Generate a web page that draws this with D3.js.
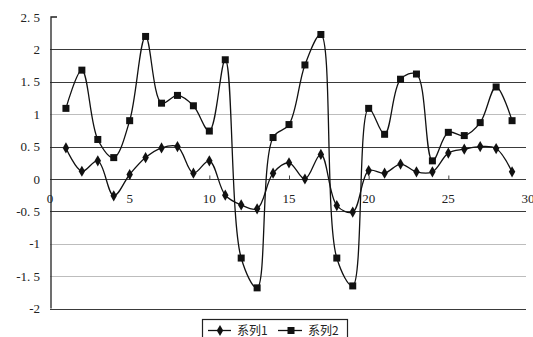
<!DOCTYPE html>
<html><head><meta charset="utf-8">
<script src="https://cdn.jsdelivr.net/npm/d3@7"></script>
<style>body{margin:0;background:#fff}svg{display:block}</style>
</head><body>
<script>
const xValues = [1,2,3,4,5,6,7,8,9,10,11,12,13,14,15,16,17,18,19,20,21,22,23,24,25,26,27,28,29];
const series1 = [0.48,0.12,0.28,-0.26,0.07,0.33,0.48,0.50,0.09,0.28,-0.25,-0.40,-0.46,0.09,0.25,0.00,0.38,-0.41,-0.51,0.13,0.09,0.23,0.11,0.11,0.40,0.46,0.50,0.47,0.11];
const series2 = [1.09,1.68,0.61,0.33,0.90,2.20,1.17,1.29,1.13,0.74,1.84,-1.22,-1.68,0.64,0.84,1.76,2.23,-1.22,-1.65,1.09,0.69,1.54,1.62,0.28,0.72,0.67,0.87,1.42,0.90];
const seriesNames = ["系列1","系列2"];
const yTicks = [2.5,2,1.5,1,0.5,0,-0.5,-1,-1.5,-2];
const yTickLabels = ["2. 5","2","1. 5","1","0. 5","0","-0. 5","-1","-1. 5","-2"];
const xTicks = [0,5,10,15,20,25,30];
const xTickLabels = ["0","5","10","15","20","25","30"];

const W = 533, H = 337;
const svg = d3.select("body").append("svg").attr("width", W).attr("height", H);
const x = d3.scaleLinear().domain([0,30]).range([50,528]);
const y = d3.scaleLinear().domain([-2,2.5]).range([308.6,17]);
const font = "'Liberation Serif', 'DejaVu Serif', serif";

// gridlines
const gridColor = v => ([1,-1,-1.5].includes(v) ? "#bdbdbd" : "#3a3a3a");
svg.append("g").selectAll("line").data(yTicks.filter(v => v !== 2.5)).join("line")
  .attr("x1", x(0)).attr("x2", 526)
  .attr("y1", d => Math.round(y(d)) + 0.5).attr("y2", d => Math.round(y(d)) + 0.5)
  .attr("stroke", d => gridColor(d)).attr("stroke-width", 1.2);

// y axis
const yAxis = svg.append("g").attr("transform", `translate(${x(0)+1},0)`)
  .call(d3.axisRight(y).tickValues([2.5]).tickSize(6).tickFormat(""));
yAxis.select(".domain").attr("stroke", "#222").attr("stroke-width", 1.3).attr("d", `M6,${y(2.5)}H0V${y(-2)}`);
yAxis.selectAll(".tick line").remove();
svg.append("g").selectAll("text").data(yTicks).join("text")
  .attr("x", 40).attr("y", d => y(d)).attr("dy", "0.35em")
  .attr("text-anchor", "end").attr("font-family", font).attr("font-size", 13)
  .attr("fill", "#222").text((d, i) => yTickLabels[i]);

// x axis at zero with upward ticks
const xAxis = svg.append("g").attr("transform", `translate(0,${Math.round(y(0))+0.5})`)
  .call(d3.axisTop(x).tickValues(xTicks.slice(1,6)).tickSize(4).tickFormat(""));
xAxis.select(".domain").remove();
xAxis.selectAll(".tick line").attr("stroke", "#444");
svg.append("g").selectAll("text").data(xTicks).join("text")
  .attr("x", d => x(d)).attr("y", 198).attr("dy", "0.35em")
  .attr("text-anchor", "middle").attr("font-family", font).attr("font-size", 13)
  .attr("fill", "#222").text((d, i) => xTickLabels[i]);

// lines
const line = d3.line().x(d => x(d[0])).y(d => y(d[1])).curve(d3.curveCatmullRom.alpha(0.5));
[series1, series2].forEach(s => {
  svg.append("path").datum(xValues.map((v, i) => [v, s[i]]))
    .attr("d", line).attr("fill", "none").attr("stroke", "#111").attr("stroke-width", 1.3);
});
// markers
const diamond = d3.symbol().type(d3.symbolDiamond).size(36);
svg.append("g").selectAll("path").data(series1).join("path")
  .attr("transform", (d, i) => `translate(${x(xValues[i])},${y(d)})`)
  .attr("d", diamond).attr("fill", "#111");
svg.append("g").selectAll("rect").data(series2).join("rect")
  .attr("x", (d, i) => x(xValues[i]) - 3.5).attr("y", d => y(d) - 3.5)
  .attr("width", 7).attr("height", 7).attr("fill", "#111");

// legend
const lg = svg.append("g");
lg.append("rect").attr("x", 202.5).attr("y", 319.5).attr("width", 145).attr("height", 30)
  .attr("fill", "none").attr("stroke", "#222").attr("stroke-width", 1.2);
const ly = 330.5;
lg.append("line").attr("x1", 208).attr("x2", 231).attr("y1", ly).attr("y2", ly).attr("stroke", "#111").attr("stroke-width", 1.3);
lg.append("path").attr("transform", `translate(220,${ly})`).attr("d", diamond).attr("fill", "#111");
lg.append("text").attr("x", 237).attr("y", ly).attr("dy", "0.36em").attr("font-family", "'Noto Sans CJK SC', sans-serif").attr("font-size", 12).attr("fill", "#222").text(seriesNames[0]);
lg.append("line").attr("x1", 278).attr("x2", 302).attr("y1", ly).attr("y2", ly).attr("stroke", "#111").attr("stroke-width", 1.3);
lg.append("rect").attr("x", 287.5).attr("y", ly - 3.5).attr("width", 7).attr("height", 7).attr("fill", "#111");
lg.append("text").attr("x", 308).attr("y", ly).attr("dy", "0.36em").attr("font-family", "'Noto Sans CJK SC', sans-serif").attr("font-size", 12).attr("fill", "#222").text(seriesNames[1]);
</script>
</body></html>
